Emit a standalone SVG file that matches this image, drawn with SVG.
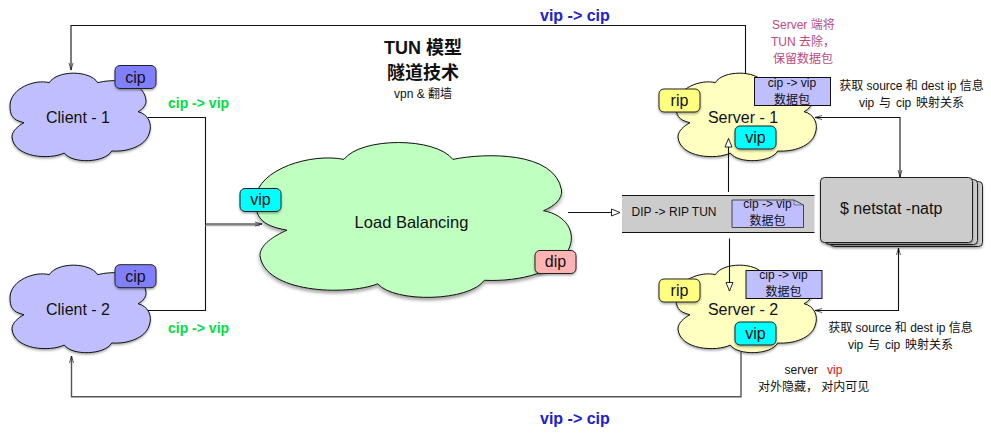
<svg xmlns="http://www.w3.org/2000/svg" width="991" height="433" viewBox="0 0 991 433">
<style>
text{font-family:"Liberation Sans","Noto Sans CJK SC",sans-serif;font-size:12px;fill:#111}
.m{text-anchor:middle}
.n{font-size:16px}
.flow{font-size:14px;font-weight:bold;fill:#00dd44}
.blue{font-size:16px;font-weight:bold;fill:#2020cc}
.t{font-size:18px;font-weight:bold}
.pink{fill:#b84a80}
.cloud{filter:url(#sh)}
#c{stroke:#111;stroke-width:1;vector-effect:non-scaling-stroke}
.tag{stroke:#222;stroke-width:1;filter:url(#sh)}
.box{fill:#bfbfff;stroke:#111;stroke-width:1}
.line{fill:none;stroke:#111;stroke-width:1.1}
</style>
<defs>
<filter id="sh" x="-10%" y="-10%" width="120%" height="125%"><feDropShadow dx="0" dy="1.5" stdDeviation="1" flood-color="#000" flood-opacity="0.35"/></filter>
<path id="c" d="M49.3,82.7C57,70 90,70 97.700,82.700C112,79 143,78 146,100C146.500,105 143,109 138,111.700C148,114 153,124 149,134C145,146 128,152 111.700,151C105,163 72,164 64.300,153C50,160 14,158 12,137C12,131 18,126 24,122.700C12,120 10,115 10,105C11,88 35,79 49.300,82.700Z"/>
<marker id="o" markerWidth="10" markerHeight="8" refX="9" refY="4" orient="auto-start-reverse" markerUnits="userSpaceOnUse"><path d="M2,2L9,4L2,6" fill="none" stroke="#111" stroke-width="0.7"/></marker>
<marker id="h" markerWidth="12" markerHeight="10" refX="10" refY="5" orient="auto" markerUnits="userSpaceOnUse"><path d="M1.500,1.500L10,5L1.500,8.500Z" fill="#fff" stroke="#111" stroke-width="0.9"/></marker>
</defs>

<g id="client-1">
<use href="#c" class="cloud" fill="#bfbfff"/>
<text class="n m" x="78" y="123">Client - 1</text>
<rect class="tag" x="115" y="65.500" width="41" height="23" rx="5" fill="#8080ff"/>
<text class="n m" x="135.500" y="83">cip</text>
</g>
<g id="client-2">
<use href="#c" class="cloud" fill="#bfbfff" transform="translate(0,192)"/>
<text class="n m" x="78" y="315">Client - 2</text>
<rect class="tag" x="115" y="264.700" width="41" height="23" rx="5" fill="#8080ff"/>
<text class="n m" x="135.500" y="282">cip</text>
</g>
<g id="load-balancing">
<use href="#c" class="cloud" fill="#bfffbf" transform="translate(233,13) scale(2.25,1.77)"/>
<text class="n m" x="411.500" y="228" style="font-size:16.500px">Load Balancing</text>
<rect class="tag" x="240" y="188.500" width="41" height="23" rx="5" fill="#00ffff"/>
<text class="n m" x="260.500" y="205">vip</text>
<rect class="tag" x="535" y="250.500" width="41" height="23" rx="5" fill="#ffb3b3"/>
<text class="n m" x="555.500" y="267">dip</text>
</g>
<g id="server-1">
<use href="#c" class="cloud" fill="#ffffc0" transform="translate(666,0)"/>
<rect class="box" x="754.500" y="77.500" width="76" height="28"/>
<text class="m" x="792" y="87">cip -&gt; vip</text>
<text class="m" x="792" y="104">数据包</text>
<text class="n m" x="743" y="123">Server - 1</text>
<rect class="tag" x="659" y="89" width="41" height="23" rx="5" fill="#ffff80"/>
<text class="n m" x="679.500" y="106">rip</text>
<rect class="tag" x="735" y="126" width="41" height="23" rx="5" fill="#00ffff"/>
<text class="n m" x="755.500" y="143">vip</text>
</g>
<g id="server-2">
<use href="#c" class="cloud" fill="#ffffc0" transform="translate(666,192)"/>
<rect class="box" x="746" y="270.500" width="76" height="28"/>
<text class="m" x="783.500" y="279">cip -&gt; vip</text>
<text class="m" x="783.500" y="296">数据包</text>
<text class="n m" x="743" y="315">Server - 2</text>
<rect class="tag" x="659" y="279" width="41" height="23" rx="5" fill="#ffff80"/>
<text class="n m" x="679.500" y="296">rip</text>
<rect class="tag" x="735" y="322" width="41" height="23" rx="5" fill="#00ffff"/>
<text class="n m" x="755.500" y="339">vip</text>
</g>
<g id="tunnel-packet">
<rect x="622" y="195.500" width="192.500" height="37" fill="#ccc"/>
<path d="M622,195.500H814.500M622,232.500H814.500" stroke="#111" fill="none"/>
<text x="631.500" y="216">DIP -&gt; RIP TUN</text>
<path d="M732,200H794L803.500,205V227.500H732Z" fill="#bfbfff" stroke="#444"/>
<path d="M794,200L794,205H803.500" fill="none" stroke="#444" stroke-width="0.6"/>
<text class="m" x="767.500" y="208">cip -&gt; vip</text>
<text class="m" x="767.500" y="225">数据包</text>
</g>
<g id="netstat">
<rect class="tag" x="830.500" y="181.500" width="152" height="65" rx="4" fill="#ccc"/>
<rect class="tag" x="825.500" y="179.500" width="152" height="65" rx="4" fill="#ccc"/>
<rect class="tag" x="820.500" y="177.500" width="152" height="65" rx="4" fill="#ccc"/>
<text class="n" x="840" y="214">$ netstat -natp</text>
</g>
<g id="connectors">
<path class="line" d="M745.500,74V25.500H71V70" marker-end="url(#o)"/>
<path d="M741,352V396.700H71.500V356" fill="none" stroke="#555" stroke-width="1.400" marker-end="url(#o)"/>
<path class="line" d="M148,117.500H205.500V310.500H148"/>
<path d="M205.500,225.500H260" fill="none" stroke="#aaa" stroke-width="1.500"/>
<path class="line" d="M205.500,224H262" marker-end="url(#o)"/>
<path class="line" d="M568,212.500H620" marker-end="url(#h)"/>
<path class="line" d="M728.500,192V138.500" marker-end="url(#h)"/>
<path class="line" d="M729.500,238.500V291" marker-end="url(#h)"/>
<path class="line" d="M815,117.500H900V177" marker-start="url(#o)" marker-end="url(#o)"/>
<path class="line" d="M815,310.500H898.500V248" marker-start="url(#o)" marker-end="url(#o)"/>
</g>
<text class="blue" x="540" y="21">vip -&gt; cip</text>
<text class="blue" x="540" y="424">vip -&gt; cip</text>
<text class="flow" x="168" y="108">cip -&gt; vip</text>
<text class="flow" x="168" y="333">cip -&gt; vip</text>
<text class="t m" x="423" y="54">TUN 模型</text>
<text class="t m" x="423" y="79">隧道技术</text>
<text class="m" x="423" y="98">vpn &amp; 翻墙</text>
<text class="pink" x="772" y="29">Server 端将</text>
<text class="pink" x="771" y="46">TUN 去除，</text>
<text class="pink" x="773" y="63">保留数据包</text>
<text class="m" x="911.500" y="90">获取 source 和 dest ip 信息</text>
<text class="m" x="911.500" y="107" word-spacing="1.500">vip 与 cip 映射关系</text>
<text class="m" x="900.500" y="332">获取 source 和 dest ip 信息</text>
<text class="m" x="900.500" y="349" word-spacing="1.500">vip 与 cip 映射关系</text>
<text x="784.500" y="374">server</text>
<text x="827" y="374" style="fill:#dd1111">vip</text>
<text x="758" y="391">对外隐藏， 对内可见</text>
</svg>
